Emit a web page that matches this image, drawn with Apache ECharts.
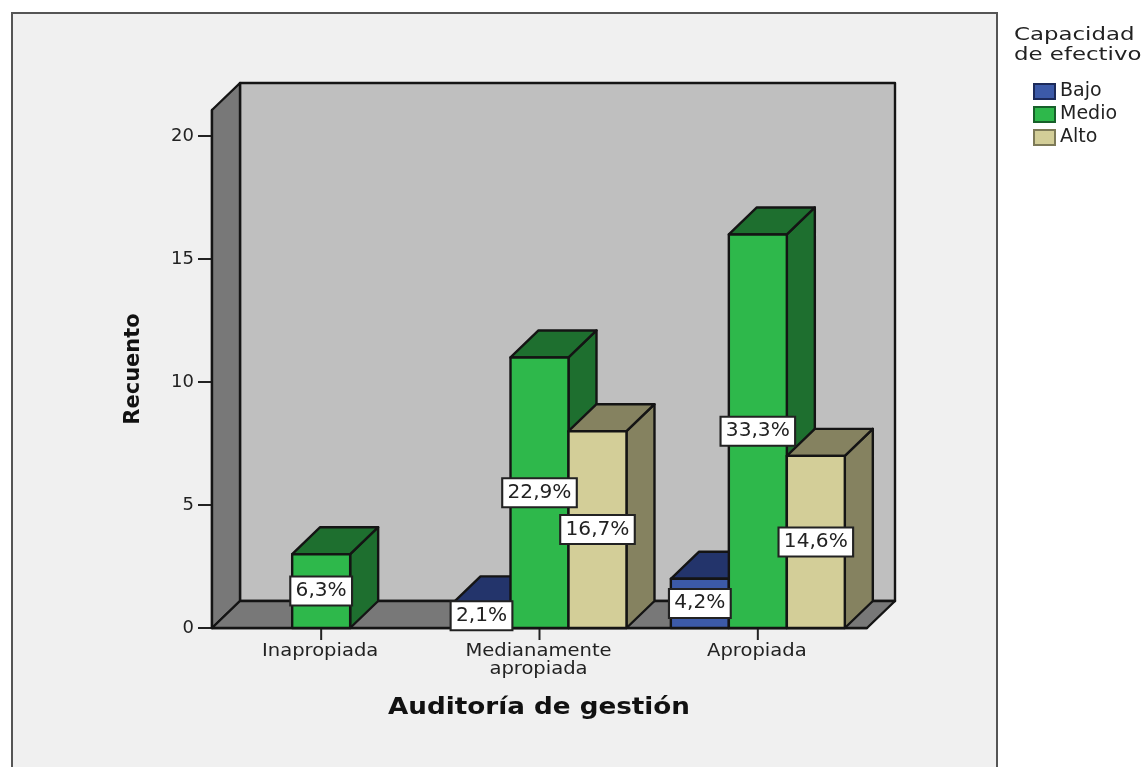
<!DOCTYPE html>
<html>
<head>
<meta charset="utf-8">
<style>html,body{margin:0;padding:0;background:#fff;overflow:hidden}#chart{width:1145px;height:767px}</style>
<script src="https://cdn.jsdelivr.net/npm/echarts@6/dist/echarts.min.js"></script>
</head>
<body>
<div id="chart"></div>
<script>
// Recuento por nivel de auditoría de gestión y capacidad de efectivo
const categories = ['Inapropiada', 'Medianamente\napropiada', 'Apropiada'];
const bajo = [0, 1, 2];
const medio = [3, 11, 16];
const alto = [0, 8, 7];
const bajoPct = ['', '2,1%', '4,2%'];
const medioPct = ['6,3%', '22,9%', '33,3%'];
const altoPct = ['', '16,7%', '14,6%'];
const yTicks = [0, 5, 10, 15, 20];
const seriesNames = ['Bajo', 'Medio', 'Alto'];

const DEPTH_X = 28, DEPTH_Y = 27, SLOT = 0.2656;
const INK = '#141414';
const FONT = '"DejaVu Sans", sans-serif';

const palette = [
  { front: '#3c5aa8', top: '#23346b', side: '#23346b', swatch: '#1c2a5a' },
  { front: '#2eb84b', top: '#1e6f2f', side: '#1e6f2f', swatch: '#17602a' },
  { front: '#d3ce98', top: '#858260', side: '#858260', swatch: '#7d7a58' }
];

const edge = { stroke: INK, lineWidth: 2.4, lineJoin: 'round' };
const poly = (points, fill) => ({
  type: 'polygon',
  shape: { points },
  style: Object.assign({ fill }, edge)
});

// Caras de la caja: pared izquierda, fondo y suelo
function renderWalls(params) {
  const g = params.coordSys;
  const x0 = g.x, x1 = g.x + g.width, y0 = g.y, y1 = g.y + g.height;
  const dx = DEPTH_X, dy = DEPTH_Y;
  return {
    type: 'group',
    children: [
      poly([[x0 + dx, y0 - dy], [x1 + dx, y0 - dy], [x1 + dx, y1 - dy], [x0 + dx, y1 - dy]], '#bfbfbf'),
      poly([[x0, y0], [x0 + dx, y0 - dy], [x0 + dx, y1 - dy], [x0, y1]], '#787878'),
      poly([[x0, y1], [x0 + dx, y1 - dy], [x1 + dx, y1 - dy], [x1, y1]], '#787878')
    ]
  };
}

// Barra en perspectiva: lateral, tapa y frente
function barRenderer(slot) {
  return function (params, api) {
    const v = api.value(1);
    if (!v) return null;
    const band = api.size([1, 0])[0];
    const w = band * SLOT;
    const top = api.coord([api.value(0), v]);
    const base = api.coord([api.value(0), 0]);
    const l = top[0] + band * SLOT * (slot - 1.5);
    const r = l + w;
    const c = palette[slot];
    const dx = DEPTH_X, dy = DEPTH_Y;
    return {
      type: 'group',
      children: [
        poly([[r, top[1]], [r + dx, top[1] - dy], [r + dx, base[1] - dy], [r, base[1]]], c.side),
        poly([[l, top[1]], [l + dx, top[1] - dy], [r + dx, top[1] - dy], [r, top[1]]], c.top),
        poly([[l, top[1]], [r, top[1]], [r, base[1]], [l, base[1]]], c.front)
      ]
    };
  };
}

// Etiqueta de porcentaje centrada en el frente de la barra
function labelRenderer(slot, texts) {
  return function (params, api) {
    const i = api.value(0), v = api.value(1);
    if (!v) return null;
    const band = api.size([1, 0])[0];
    const mid = api.coord([i, v / 2]);
    return {
      type: 'text',
      x: mid[0] + band * SLOT * (slot - 1),
      y: mid[1],
      scaleX: 1.06,
      style: {
        text: texts[i],
        align: 'center',
        verticalAlign: 'middle',
        font: '19px ' + FONT,
        fill: '#222',
        backgroundColor: '#fff',
        borderColor: '#222',
        borderWidth: 2,
        padding: [4, 4, 4, 4]
      }
    };
  };
}

// Marca bajo el eje y rótulo ensanchado de cada categoría
function renderCategory(params, api) {
  const i = api.value(0);
  const p = api.coord([i, 0]);
  return {
    type: 'group',
    children: [
      { type: 'line', shape: { x1: p[0], y1: p[1], x2: p[0], y2: p[1] + 12 }, style: { stroke: '#222', lineWidth: 2 } },
      {
        type: 'text',
        x: p[0] - 1,
        y: p[1] + 15,
        scaleX: 1.15,
        style: {
          text: categories[i],
          align: 'center',
          verticalAlign: 'top',
          font: '17px ' + FONT,
          lineHeight: 18,
          fill: '#222'
        }
      }
    ]
  };
}

const rows = a => a.map((v, i) => [i, v]);
const valuesBySlot = [bajo, medio, alto];
const textsBySlot = [bajoPct, medioPct, altoPct];

const barSeries = valuesBySlot.map((vals, s) => ({
  type: 'custom',
  name: seriesNames[s],
  renderItem: barRenderer(s),
  data: rows(vals),
  encode: { x: 0, y: 1 },
  z: 3,
  itemStyle: { color: palette[s].front, borderColor: palette[s].swatch, borderWidth: 2.5 }
}));

const labelSeries = valuesBySlot.map((vals, s) => ({
  type: 'custom',
  renderItem: labelRenderer(s, textsBySlot[s]),
  data: rows(vals),
  encode: { x: 0, y: 1 },
  z: 5,
  silent: true
}));

const chart = echarts.init(document.getElementById('chart'), null, { renderer: 'canvas' });
chart.setOption({
  animation: false,
  backgroundColor: '#ffffff',
  graphic: [{
    type: 'rect',
    z: -10,
    shape: { x: 12, y: 13, width: 985, height: 780 },
    style: { fill: '#f0f0f0', stroke: '#555555', lineWidth: 2 }
  }, {
    type: 'text',
    x: 1014,
    y: 25,
    scaleX: 1.27,
    style: {
      text: 'Capacidad\nde efectivo',
      font: '18px ' + FONT,
      lineHeight: 20,
      fill: '#222'
    }
  }, {
    type: 'text',
    x: 539,
    y: 708,
    scaleX: 1.14,
    style: {
      text: 'Auditoría de gestión',
      align: 'center',
      verticalAlign: 'middle',
      font: 'bold 23px ' + FONT,
      fill: '#111'
    }
  }],
  legend: {
    orient: 'vertical',
    left: 1033,
    top: 82,
    itemWidth: 21,
    itemHeight: 15,
    itemGap: 4,
    icon: 'rect',
    padding: 0,
    selectedMode: false,
    data: seriesNames,
    textStyle: { fontFamily: FONT, fontSize: 19, lineHeight: 15, color: '#222', padding: 0 }
  },
  grid: { left: 212, top: 110, width: 655, height: 518 },
  xAxis: {
    type: 'category',
    data: categories,
    axisLine: { lineStyle: { color: INK, width: 2.4 } },
    axisTick: { show: false },
    axisLabel: { show: false }
  },
  yAxis: {
    type: 'value',
    min: 0,
    max: 21.06,
    name: 'Recuento',
    nameLocation: 'middle',
    nameGap: 68,
    nameTextStyle: { fontFamily: FONT, fontWeight: 'bold', fontSize: 21, color: '#111' },
    splitLine: { show: false },
    axisLine: { show: true, lineStyle: { color: INK, width: 2.4 } },
    axisTick: { show: true, length: 14, customValues: yTicks, lineStyle: { color: '#222', width: 2 } },
    axisLabel: { fontFamily: FONT, fontSize: 18, color: '#222', margin: 18, customValues: yTicks }
  },
  series: [
    { type: 'custom', renderItem: renderWalls, data: [[0, 0]], encode: { x: 0, y: 1 }, z: 1, silent: true },
    { type: 'custom', renderItem: renderCategory, data: rows(categories.map(() => 0)), encode: { x: 0, y: 1 }, z: 1, silent: true }
  ].concat(barSeries, labelSeries)
});
</script>
</body>
</html>
